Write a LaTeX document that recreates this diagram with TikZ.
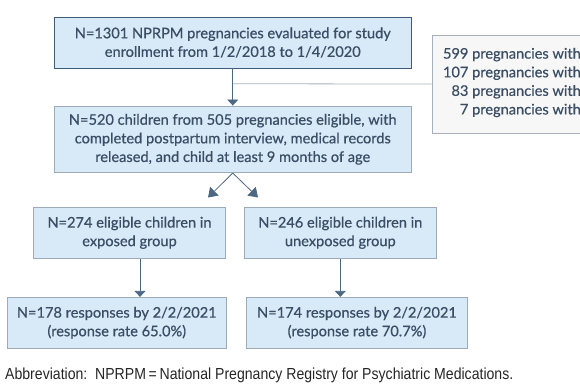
\documentclass[tikz,border=0pt]{standalone}
\usepackage{fontspec}
\setmainfont[FakeBold=0.6]{Lato}
\newfontfamily\notefont[FakeStretch=0.88]{Liberation Sans}
\usetikzlibrary{arrows.meta}

\definecolor{boxfill}{HTML}{D8E9F7}
\definecolor{boxedge}{HTML}{9DABB8}
\definecolor{darkedge}{HTML}{3E5B78}
\definecolor{inktext}{HTML}{3A4E66}
\definecolor{sidefill}{HTML}{F7F7F7}
\definecolor{sideedge}{HTML}{A8B1BA}
\definecolor{linkline}{HTML}{4D6883}

\tikzset{
  stage/.style = {draw = boxedge, fill = boxfill, thick, align = center,
    text = inktext, inner sep = 0pt, font = \fontsize{14.6}{18.6}\selectfont},
  flow/.style = {draw = linkline, thick,
    -{Triangle[width = 11pt, length = 6pt]}},
}

\begin{document}
\begin{tikzpicture}[x = 1pt, y = -1pt]
  \useasboundingbox (0, 0) rectangle (580, 387);

  % main stages
  \node[stage, draw = darkedge, minimum width = 356.5pt, minimum height = 51pt]
    (screened) at (232.75, 42.5)
    {N=1301 NPRPM pregnancies evaluated for study\\
     enrollment from 1/2/2018 to 1/4/2020};
  \node[stage, minimum width = 356.5pt, minimum height = 66.7pt]
    (eligible) at (232.75, 139.3)
    {N=520 children from 505 pregnancies eligible, with\\
     completed postpartum interview, medical records\\
     released, and child at least 9 months of age};

  % exclusions
  \node[draw = sideedge, fill = sidefill, thick, anchor = north west,
    minimum width = 200pt, minimum height = 98pt]
    (excluded) at (431.7, 34.7) {};
  \node[align = right, anchor = east, text = inktext,
    font = \fontsize{14.6}{18.6}\selectfont, inner sep = 0pt]
    (reasons) at (581, 82.5)
    {599 pregnancies with\\ 107 pregnancies with\\
     83 pregnancies with\\ 7 pregnancies with};

  % groups
  \node[stage, minimum width = 192.4pt, minimum height = 51pt]
    (exposed) at (129.5, 232.8)
    {N=274 eligible children in\\ exposed group};
  \node[stage, minimum width = 192pt, minimum height = 51pt]
    (unexposed) at (340.3, 232.8)
    {N=246 eligible children in\\ unexposed group};
  \node[stage, minimum width = 219pt, minimum height = 51pt]
    (exposedresp) at (116.8, 322.8)
    {N=178 responses by 2/2/2021\\ (response rate 65.0\%)};
  \node[stage, minimum width = 220.6pt, minimum height = 51pt]
    (unexposedresp) at (357, 322.8)
    {N=174 responses by 2/2/2021\\ (response rate 70.7\%)};

  \coordinate (branch) at (232.75, 83.7);
  \coordinate (splitleft) at (208, 197.5);
  \coordinate (splitright) at (258, 197.5);

  \draw[draw = sideedge, thick] (branch) -- (excluded.west);
  \draw[flow] (screened.south) -- (eligible.north);
  \draw[flow, -{Triangle[width = 12pt, length = 9pt]}]
    (eligible.south) -- (splitleft);
  \draw[flow, -{Triangle[width = 12pt, length = 9pt]}]
    (eligible.south) -- (splitright);
  \draw[flow] (exposed.south -| 140, 0) -- (exposedresp.north -| 140, 0);
  \draw[flow] (unexposed.south) -- (unexposedresp.north -| unexposed.south);

  \node[anchor = west, inner sep = 0pt, text = black!85,
    font = \notefont\fontsize{16}{18}\selectfont]
    (abbrev) at (5, 375)
    {Abbreviation:\ \ NPRPM\,=\,National Pregnancy Registry for Psychiatric Medications.};
\end{tikzpicture}
\end{document}
